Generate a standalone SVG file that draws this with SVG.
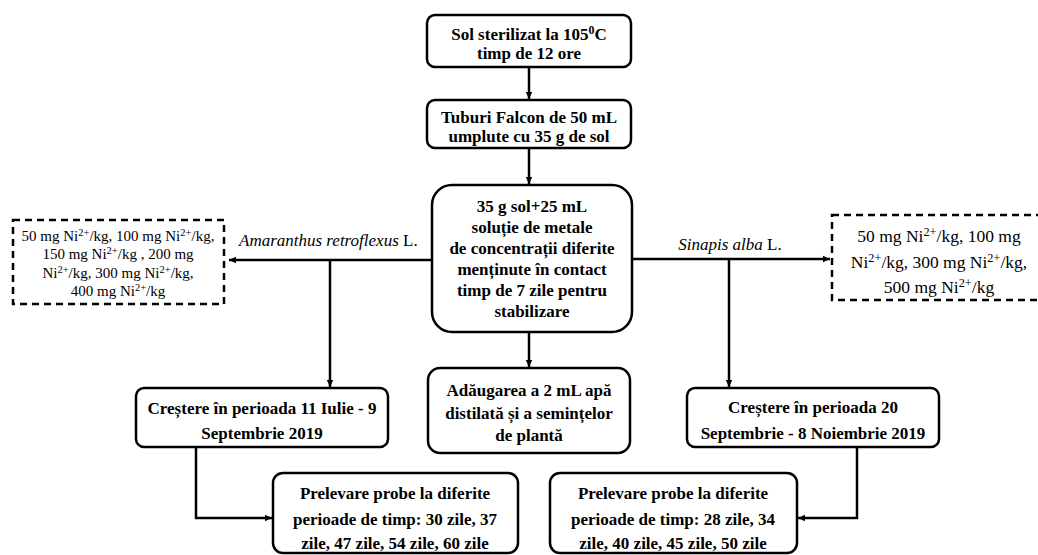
<svg xmlns="http://www.w3.org/2000/svg" width="1038" height="555" viewBox="0 0 1038 555">
  <style>
    .box { fill: #ffffff; stroke: #000000; stroke-width: 2.5; }
    .dash { fill: #ffffff; stroke: #000000; stroke-width: 2.5; stroke-dasharray: 7 5; }
    .t { font-family: "Liberation Serif", "Times New Roman", serif; font-weight: bold; font-size: 17px; text-anchor: middle; fill: #000; }
    .n { font-family: "Liberation Serif", "Times New Roman", serif; font-size: 15px; text-anchor: middle; fill: #000; }
    .n2 { font-family: "Liberation Serif", "Times New Roman", serif; font-size: 17.5px; text-anchor: middle; fill: #000; }
    .lbl { font-family: "Liberation Serif", "Times New Roman", serif; font-size: 17px; fill: #000; }
    .link { fill: none; stroke: #000000; stroke-width: 2.5; }
    .sup { font-size: 70%; }
  </style>
  <defs>
    <marker id="arrow" markerWidth="8" markerHeight="8" refX="7" refY="4" orient="auto" markerUnits="userSpaceOnUse">
      <path d="M0,0.8 L7,4 L0,7.2 Z" fill="#000"/>
    </marker>
  </defs>

  <!-- connectors -->
  <g id="connectors">
    <line class="link" x1="529" y1="67" x2="529" y2="99" marker-end="url(#arrow)"/>
    <line class="link" x1="529" y1="148" x2="529" y2="184" marker-end="url(#arrow)"/>
    <line class="link" x1="432" y1="260" x2="229" y2="260" marker-end="url(#arrow)"/>
    <line class="link" x1="330" y1="260" x2="330" y2="387" marker-end="url(#arrow)"/>
    <line class="link" x1="632" y1="259" x2="830" y2="259" marker-end="url(#arrow)"/>
    <line class="link" x1="729" y1="259" x2="729" y2="387" marker-end="url(#arrow)"/>
    <line class="link" x1="529" y1="332" x2="529" y2="367" marker-end="url(#arrow)"/>
    <polyline class="link" points="196,447 196,518 272,518" marker-end="url(#arrow)"/>
    <polyline class="link" points="857,447 857,518 798,518" marker-end="url(#arrow)"/>
  </g>

  <g id="sterilizare">
    <rect class="box" x="427" y="15" width="204" height="52" rx="8"/>
    <text class="t" x="529" y="40">Sol sterilizat la 105<tspan class="sup" dy="-6">0</tspan><tspan dy="6">C</tspan></text>
    <text class="t" x="529" y="59">timp de 12 ore</text>
  </g>

  <g id="tuburi">
    <rect class="box" x="427" y="100" width="204" height="48" rx="8"/>
    <text class="t" x="529" y="123">Tuburi Falcon de 50 mL</text>
    <text class="t" x="529" y="142">umplute cu 35 g de sol</text>
  </g>

  <g id="stabilizare">
    <rect class="box" x="432" y="185" width="200" height="147" rx="20"/>
    <text class="t" x="532" y="212">35 g sol+25 mL</text>
    <text class="t" x="532" y="233">soluție de metale</text>
    <text class="t" x="532" y="254">de concentrații diferite</text>
    <text class="t" x="532" y="275">menținute în contact</text>
    <text class="t" x="532" y="296">timp de 7 zile pentru</text>
    <text class="t" x="532" y="317">stabilizare</text>
  </g>

  <g id="label-amaranthus">
    <text class="lbl" x="239" y="246"><tspan font-style="italic">Amaranthus retroflexus</tspan> L.</text>
  </g>

  <g id="label-sinapis">
    <text class="lbl" x="730" y="250" text-anchor="middle" font-size="16.5"><tspan font-style="italic">Sinapis alba</tspan> L.</text>
  </g>

  <g id="concentratii-amaranthus">
    <rect class="dash" x="13" y="220" width="211" height="84"/>
    <text class="n" x="118" y="241">50 mg Ni<tspan class="sup" dy="-5">2+</tspan><tspan dy="5">/kg, 100 mg Ni</tspan><tspan class="sup" dy="-5">2+</tspan><tspan dy="5">/kg,</tspan></text>
    <text class="n" x="118" y="259">150 mg Ni<tspan class="sup" dy="-5">2+</tspan><tspan dy="5">/kg , 200 mg</tspan></text>
    <text class="n" x="118" y="278">Ni<tspan class="sup" dy="-5">2+</tspan><tspan dy="5">/kg, 300 mg Ni</tspan><tspan class="sup" dy="-5">2+</tspan><tspan dy="5">/kg,</tspan></text>
    <text class="n" x="118" y="296">400 mg Ni<tspan class="sup" dy="-5">2+</tspan><tspan dy="5">/kg</tspan></text>
  </g>

  <g id="concentratii-sinapis">
    <rect class="dash" x="832" y="215" width="210" height="85"/>
    <text class="n2" x="939" y="242">50 mg Ni<tspan class="sup" dy="-6">2+</tspan><tspan dy="6">/kg, 100 mg</tspan></text>
    <text class="n2" x="939" y="268">Ni<tspan class="sup" dy="-6">2+</tspan><tspan dy="6">/kg, 300 mg Ni</tspan><tspan class="sup" dy="-6">2+</tspan><tspan dy="6">/kg,</tspan></text>
    <text class="n2" x="939" y="293">500 mg Ni<tspan class="sup" dy="-6">2+</tspan><tspan dy="6">/kg</tspan></text>
  </g>

  <g id="crestere-amaranthus">
    <rect class="box" x="136" y="388" width="252" height="59" rx="8"/>
    <text class="t" x="262" y="414">Creștere în perioada 11 Iulie - 9</text>
    <text class="t" x="262" y="439">Septembrie 2019</text>
  </g>

  <g id="adaugare">
    <rect class="box" x="428" y="368" width="202" height="85" rx="12"/>
    <text class="t" x="529" y="396">Adăugarea a 2 mL apă</text>
    <text class="t" x="529" y="419">distilată și a semințelor</text>
    <text class="t" x="529" y="441">de plantă</text>
  </g>

  <g id="crestere-sinapis">
    <rect class="box" x="687" y="388" width="252" height="59" rx="8"/>
    <text class="t" x="813" y="413">Creștere în perioada 20</text>
    <text class="t" x="813" y="439">Septembrie - 8 Noiembrie 2019</text>
  </g>

  <g id="prelevare-amaranthus">
    <rect class="box" x="273" y="473" width="245" height="80" rx="10"/>
    <text class="t" x="395" y="499">Prelevare probe la diferite</text>
    <text class="t" x="395" y="525">perioade de timp: 30 zile, 37</text>
    <text class="t" x="395" y="549">zile, 47 zile, 54 zile, 60 zile</text>
  </g>

  <g id="prelevare-sinapis">
    <rect class="box" x="550" y="473" width="247" height="80" rx="10"/>
    <text class="t" x="673" y="499">Prelevare probe la diferite</text>
    <text class="t" x="673" y="525">perioade de timp: 28 zile, 34</text>
    <text class="t" x="673" y="549">zile, 40 zile, 45 zile, 50 zile</text>
  </g>
</svg>
